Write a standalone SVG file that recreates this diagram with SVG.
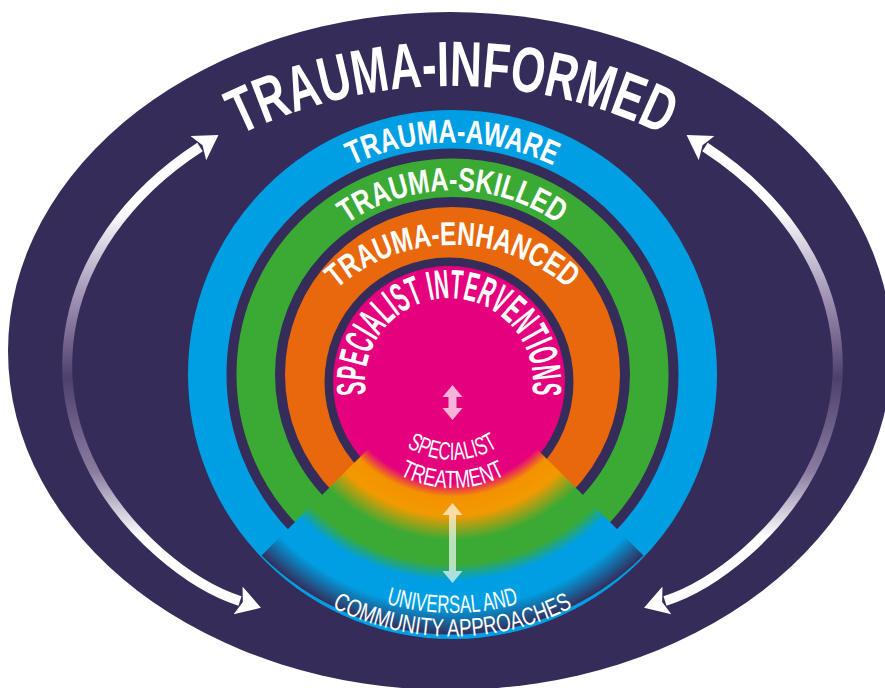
<svg xmlns="http://www.w3.org/2000/svg" width="885" height="688" viewBox="0 0 885 688">
<style>
.ring{fill:none}
.big{font-family:'Liberation Sans Narrow','Liberation Sans',Arial,sans-serif;font-weight:bold;fill:#ffffff}
.small{font-family:'Liberation Sans Narrow','Liberation Sans',Arial,sans-serif;font-weight:normal;fill:#ffffff}
.arc{fill:none;stroke:url(#arcGrad);stroke-width:10}
.dbl{fill:#ffffff}
</style>
<defs>
<radialGradient id="wedgeGrad" gradientUnits="userSpaceOnUse" cx="452.5" cy="364.5" r="270">
<stop offset="0.37" stop-color="#e5007d" stop-opacity="0"/>
<stop offset="0.42" stop-color="#e5007d" stop-opacity="1"/>
<stop offset="0.44" stop-color="#e5007d"/>
<stop offset="0.49" stop-color="#f39200"/>
<stop offset="0.56" stop-color="#f29a00"/>
<stop offset="0.65" stop-color="#3aaa35"/>
<stop offset="0.74" stop-color="#3aaa35"/>
<stop offset="0.80" stop-color="#009fe3"/>
<stop offset="0.90" stop-color="#009fe3"/>
<stop offset="0.96" stop-color="#1d5d92"/>
<stop offset="1" stop-color="#352c5a"/>
</radialGradient>
<linearGradient id="arcGrad" gradientUnits="userSpaceOnUse" x1="0" y1="134" x2="0" y2="603">
<stop offset="0" stop-color="#ffffff"/>
<stop offset="0.16" stop-color="#ffffff"/>
<stop offset="0.33" stop-color="#a99cbb"/>
<stop offset="0.52" stop-color="#4e3f6e"/>
<stop offset="0.72" stop-color="#8a7ca0"/>
<stop offset="0.86" stop-color="#ffffff"/>
<stop offset="1" stop-color="#ffffff"/>
</linearGradient>
<marker id="head" markerUnits="userSpaceOnUse" markerWidth="30" markerHeight="34" refX="2" refY="15" orient="auto-start-reverse" viewBox="0 0 30 30">
<path d="M0,0.5 L24,15 L0,29.5 L5,15 Z" fill="#ffffff"/>
</marker>
<path id="pInformed" d="M 210.5,150.7 A 483 483 0 0 1 693.5,150.7"/>
<path id="pAware" d="M 288.45,210.45 A 232 232 0 0 1 616.55,210.45"/>
<path id="pSkilled" d="M 311.6,256.2 A 184 184 0 0 1 593.4,256.2"/>
<path id="pEnhanced" d="M 300.9,332.5 A 175 175 0 0 1 604.1,332.5"/>
<path id="pSpecInt" d="M 366,395.1 A 84 84 0 1 1 532,395.1"/>
<path id="pSpec" d="M 378.5,417.25 A 85.5 85.5 0 0 0 526.5,417.25"/>
<path id="pTreat" d="M 354.2,431.25 A 113.5 113.5 0 0 0 550.8,431.25"/>
<path id="pUniv" d="M 333.25,581 A 238.5 238.5 0 0 0 571.75,581"/>
<path id="pComm" d="M 302.2,589.1 A 262 262 0 0 0 602.8,589.1"/>
</defs>

<g id="background">
<ellipse cx="450" cy="351" rx="442" ry="339" fill="#352c5a"/>
</g>

<g id="trauma-aware">
<circle class="ring" cx="452.5" cy="374.5" r="245.25" stroke="#009fe3" stroke-width="38.5"/>
</g>
<g id="trauma-skilled">
<circle class="ring" cx="452.5" cy="374.5" r="196.75" stroke="#3aaa35" stroke-width="38.5"/>
</g>
<g id="trauma-enhanced">
<circle cx="452.5" cy="374.5" r="167.5" fill="#e9680c"/>
</g>
<g id="specialist-interventions">
<circle cx="449" cy="382" r="124.5" fill="#352c5a"/>
<circle cx="449" cy="382" r="116" fill="#e5007d"/>
</g>
<g id="wedge">
<path d="M 381.8,435.2 L 261.6,555.4 A 270 270 0 0 0 643.4,555.4 L 523.2,435.2 A 100 100 0 0 1 381.8,435.2 Z" fill="url(#wedgeGrad)"/>
</g>

<g id="labels">
<text class="big" font-size="64"><textPath href="#pInformed" startOffset="50%" text-anchor="middle" textLength="440" lengthAdjust="spacingAndGlyphs">TRAUMA-INFORMED</textPath></text>
<text class="big" font-size="33"><textPath href="#pAware" startOffset="50%" text-anchor="middle" textLength="208" lengthAdjust="spacingAndGlyphs">TRAUMA-AWARE</textPath></text>
<text class="big" font-size="33"><textPath href="#pSkilled" startOffset="50%" text-anchor="middle" textLength="225" lengthAdjust="spacingAndGlyphs">TRAUMA-SKILLED</textPath></text>
<text class="big" font-size="33"><textPath href="#pEnhanced" startOffset="50%" text-anchor="middle" textLength="253" lengthAdjust="spacingAndGlyphs">TRAUMA-ENHANCED</textPath></text>
<text class="big" font-size="41"><textPath href="#pSpecInt" startOffset="50%" text-anchor="middle" textLength="288" lengthAdjust="spacingAndGlyphs">SPECIALIST INTERVENTIONS</textPath></text>
<text class="small" font-size="25"><textPath href="#pSpec" startOffset="50%" text-anchor="middle" textLength="96" lengthAdjust="spacingAndGlyphs">SPECIALIST</textPath></text>
<text class="small" font-size="25"><textPath href="#pTreat" startOffset="50%" text-anchor="middle" textLength="110" lengthAdjust="spacingAndGlyphs">TREATMENT</textPath></text>
<text class="small" font-size="25"><textPath href="#pUniv" startOffset="50%" text-anchor="middle" textLength="134" lengthAdjust="spacingAndGlyphs">UNIVERSAL AND</textPath></text>
<text class="small" font-size="25"><textPath href="#pComm" startOffset="50%" text-anchor="middle" textLength="250" lengthAdjust="spacingAndGlyphs">COMMUNITY APPROACHES</textPath></text>
</g>

<g id="connectors">
<path class="arc" d="M 200,147 A 383 288 0 0 0 160,553 C 182.6,572.7 212,592 240,601" marker-start="url(#head)" marker-end="url(#head)"/>
<path class="arc" transform="translate(905,0) scale(-1,1)" d="M 200,147 A 383 288 0 0 0 160,553 C 182.6,572.7 212,592 240,601" marker-start="url(#head)" marker-end="url(#head)"/>
<path class="dbl" fill-opacity="0.7" d="M452.5,385 L462.5,397 L456.5,397 L456.5,408 L462.5,408 L452.5,420 L442.5,408 L448.5,408 L448.5,397 L442.5,397 Z"/>
<path class="dbl" fill-opacity="0.65" d="M452.5,503 L462.5,515 L456,515 L456,571 L462.5,571 L452.5,583 L442.5,571 L449,571 L449,515 L442.5,515 Z"/>
</g>
</svg>
